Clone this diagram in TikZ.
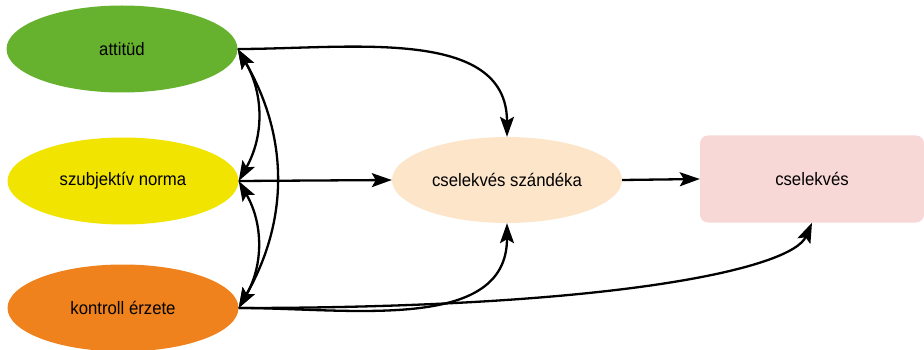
\documentclass[tikz,border=0pt]{standalone}
\usepackage{fontspec}
\setmainfont{Liberation Sans}[FakeStretch=0.93]
\usetikzlibrary{shapes.geometric}
\usetikzlibrary{arrows.meta}

\definecolor{attgreen}{HTML}{66B22E}
\definecolor{normyellow}{HTML}{F0E400}
\definecolor{kontrollorange}{HTML}{F0821E}
\definecolor{szandekpeach}{HTML}{FDE5C9}
\definecolor{cselekvespink}{HTML}{F8D7D7}

\begin{document}
\begin{tikzpicture}[x=1pt,y=-1pt,
    >={Stealth[length=20pt,width=14pt,inset=4pt]},
    oval/.style={ellipse,minimum width=231pt,minimum height=87pt,inner sep=0pt,
      font=\fontsize{18}{21}\selectfont},
    arr/.style={line width=2.3pt,->},
    dblarr/.style={line width=2.3pt,<->}]
    \useasboundingbox (0,0) rectangle (924,350);

    % left side
    \node[oval,fill=attgreen] (attitud) at (122,49) {attitüd};
    \node[oval,fill=normyellow] (norma) at (123,181) {szubjektív norma};
    \node[oval,fill=kontrollorange] (kontroll) at (123,308) {kontroll érzete};

    % right side
    \node[oval,fill=szandekpeach,minimum width=230pt,minimum height=86pt]
      (szandek) at (507,180) {cselekvés szándéka};
    \node[fill=cselekvespink,rounded corners=8pt,minimum width=224pt,
      minimum height=87pt,font=\fontsize{18}{21}\selectfont]
      (cselekves) at (812,179) {cselekvés};

    \draw[arr] (attitud.east) to[out=0,in=90] (szandek.north);
    \draw[arr] (norma.east) -- (szandek.west);
    \draw[arr] (kontroll.east) to[out=0,in=-90] (szandek.south);
    \draw[arr] (kontroll.east) .. controls (620,308) and (792,268) .. (cselekves.south);
    \draw[arr] (szandek.east) -- (cselekves.west);

    \draw[dblarr] (attitud.east) to[bend left=30] (norma.east);
    \draw[dblarr] (norma.east) to[bend left=30] (kontroll.east);
    \draw[dblarr] (attitud.east) to[bend left=30] (kontroll.east);

  \end{tikzpicture}
\end{document}
